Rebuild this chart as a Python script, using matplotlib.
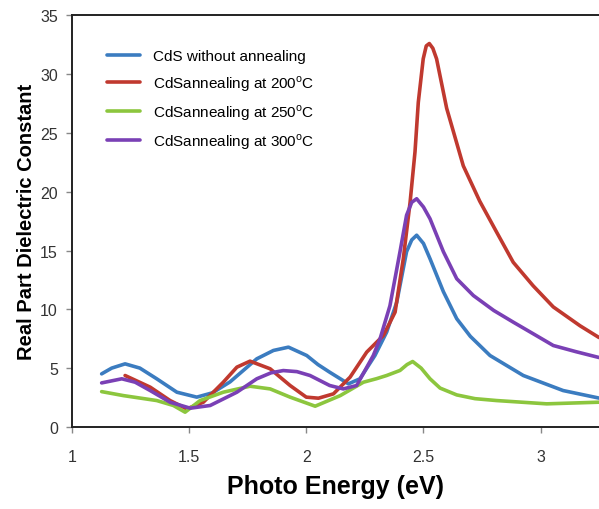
import matplotlib
matplotlib.use("Agg")
import matplotlib.pyplot as plt

plt.rcParams['font.family'] = ['Liberation Sans', 'DejaVu Sans']
plt.rcParams['mathtext.fontset'] = 'custom'
plt.rcParams['mathtext.rm'] = 'Liberation Sans'

# values
blue_x = [1.127, 1.17, 1.227, 1.29, 1.362, 1.448, 1.533, 1.60, 1.675, 1.789, 1.86, 1.924,
          2.002, 2.05, 2.10, 2.18, 2.229, 2.293, 2.343, 2.386, 2.428, 2.45, 2.471, 2.50,
          2.528, 2.585, 2.642, 2.70, 2.784, 2.926, 3.096, 3.249]
blue_y = [4.51, 5.0, 5.36, 5.0, 4.09, 2.95, 2.53, 2.9, 3.83, 5.79, 6.5, 6.78,
          6.07, 5.3, 4.65, 3.66, 4.09, 6.07, 8.06, 10.6, 14.9, 15.9, 16.3, 15.6,
          14.3, 11.5, 9.2, 7.7, 6.07, 4.37, 3.09, 2.45]

red_x = [1.227, 1.334, 1.419, 1.49, 1.561, 1.646, 1.704, 1.76, 1.846, 1.931, 2.0, 2.052,
         2.116, 2.187, 2.258, 2.329, 2.379, 2.414, 2.443, 2.464, 2.478, 2.499, 2.512, 2.525,
         2.54, 2.556, 2.599, 2.67, 2.74, 2.812, 2.883, 2.968, 3.054, 3.168, 3.249]
red_y = [4.37, 3.38, 2.24, 1.53, 2.10, 3.80, 5.08, 5.59, 4.94, 3.52, 2.53, 2.44,
         2.81, 4.23, 6.36, 7.77, 9.76, 14.3, 19.1, 23.4, 27.6, 31.3, 32.4, 32.6,
         32.2, 31.3, 27.1, 22.2, 19.2, 16.57, 14.0, 12.0, 10.2, 8.6, 7.6]

green_x = [1.127, 1.22, 1.362, 1.433, 1.483, 1.547, 1.646, 1.76, 1.846, 1.931, 2.038,
           2.145, 2.244, 2.30, 2.343, 2.40, 2.43, 2.454, 2.49, 2.528, 2.571, 2.642, 2.72,
           2.812, 3.026, 3.249]
green_y = [3.0, 2.66, 2.24, 1.82, 1.25, 2.24, 2.95, 3.46, 3.23, 2.53, 1.76,
           2.66, 3.80, 4.1, 4.37, 4.8, 5.3, 5.56, 5.0, 4.09, 3.3, 2.72, 2.4,
           2.24, 1.96, 2.10]

purple_x = [1.127, 1.213, 1.27, 1.334, 1.419, 1.505, 1.59, 1.704, 1.789, 1.85, 1.902,
            1.96, 2.016, 2.10, 2.158, 2.215, 2.286, 2.315, 2.357, 2.40, 2.428, 2.45,
            2.471, 2.50, 2.528, 2.585, 2.642, 2.713, 2.80, 2.883, 2.97, 3.054, 3.15, 3.249]
purple_y = [3.74, 4.09, 3.8, 3.09, 2.10, 1.59, 1.82, 2.95, 4.09, 4.6, 4.79,
            4.7, 4.37, 3.52, 3.23, 3.52, 6.07, 7.5, 10.3, 14.9, 18.0, 19.1,
            19.4, 18.7, 17.7, 14.9, 12.6, 11.17, 9.9, 8.91, 7.9, 6.92, 6.4, 5.9]

labels = ['CdS without annealing',
          'CdSannealing at 200$^\\mathregular{o}$C',
          'CdSannealing at 250$^\\mathregular{o}$C',
          'CdSannealing at 300$^\\mathregular{o}$C']
colors = ['#3b7cc0', '#c0392f', '#8cc63e', '#7a40b5']

fig = plt.figure(figsize=(5.99, 5.10), dpi=100)
ax = fig.add_axes([0.120, 0.161, 0.880, 0.807])

series = [(blue_x, blue_y), (red_x, red_y), (green_x, green_y), (purple_x, purple_y)]
for (xs, ys), c, lab in zip(series, colors, labels):
    ax.plot(xs, ys, color=c, lw=2.6, label=lab, solid_capstyle='round', solid_joinstyle='round')

ax.set_xlim(1, 3.249)
ax.set_ylim(0, 35)
ax.set_xticks([1, 1.5, 2, 2.5, 3])
ax.set_xticklabels(['1', '1.5', '2', '2.5', '3'])
ax.set_yticks(range(0, 36, 5))

ax.spines['right'].set_visible(False)
for s in ['left', 'bottom', 'top']:
    ax.spines[s].set_linewidth(1.4)
    ax.spines[s].set_color('#222222')
ax.tick_params(direction='out', length=4, width=1, color='#888888',
               labelsize=11.5, labelcolor='#333333')
ax.tick_params(axis='x', pad=12)
ax.tick_params(axis='y', pad=6)

ax.set_xlabel('Photo Energy (eV)', fontsize=18, fontweight='bold', labelpad=7)
ax.set_ylabel('Real Part Dielectric Constant', fontsize=14.5, fontweight='bold', labelpad=3)

ax.legend(loc='upper left', bbox_to_anchor=(0.066, 0.917), frameon=False,
          fontsize=11, handlelength=2.15, labelspacing=0.62, handletextpad=0.85,
          borderaxespad=0, borderpad=0)

fig.savefig('out.png', dpi=100, facecolor='white')
